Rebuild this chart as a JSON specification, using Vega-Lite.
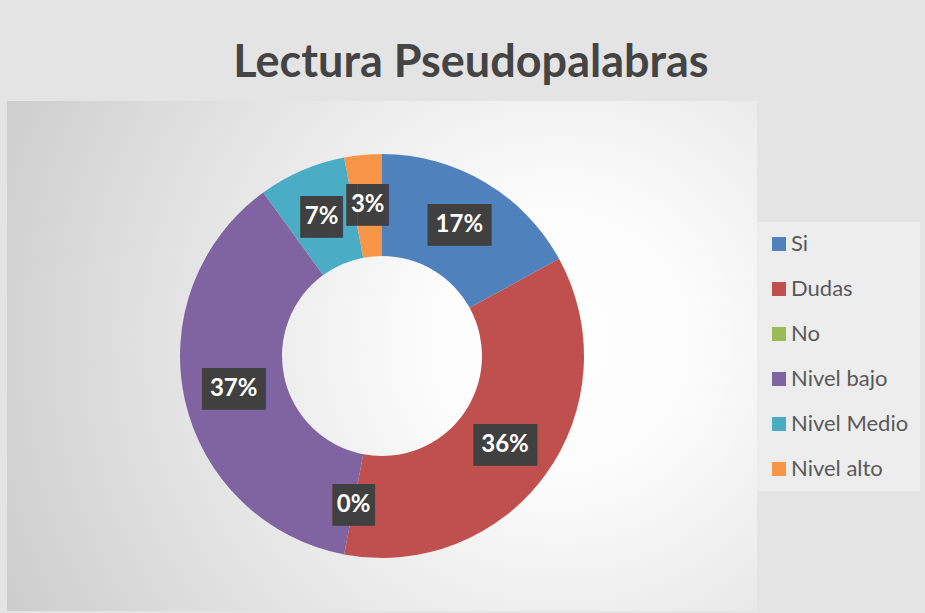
{
  "$schema": "https://vega.github.io/schema/vega-lite/v6.json",
  "autosize": {"type": "none"},
  "width": 750,
  "height": 510,
  "padding": {"left": 7, "top": 101, "right": 168, "bottom": 2},
  "background": "#e4e4e4",
  "title": {
    "text": "Lectura Pseudopalabras",
    "font": "Lato",
    "fontSize": 45,
    "fontWeight": "bold",
    "color": "#444444",
    "anchor": "middle",
    "baseline": "alphabetic",
    "offset": -21,
    "dx": 89
  },
  "config": {"view": {"stroke": null}},
  "layer": [
    {
      "data": {"values": [{}]},
      "mark": {
        "type": "rect",
        "fill": {
          "gradient": "radial",
          "x1": 0.737, "y1": 0.479, "r1": 0,
          "x2": 0.737, "y2": 0.479, "r2": 0.867,
          "stops": [
            {"offset": 0, "color": "#ffffff"},
            {"offset": 0.22, "color": "#fbfbfb"},
            {"offset": 1, "color": "#c9c9c9"}
          ]
        }
      },
      "encoding": {}
    },
    {
      "data": {"name": "datos"},
      "layer": [
        {
          "mark": {"type": "arc", "radius": 202, "radius2": 100},
          "encoding": {
            "theta": {"field": "valor", "type": "quantitative", "stack": true},
            "order": {"field": "orden", "type": "quantitative"},
            "color": {
              "field": "categoria",
              "type": "nominal",
              "scale": {
                "domain": ["Si", "Dudas", "No", "Nivel bajo", "Nivel Medio", "Nivel alto"],
                "range": ["#4F81BD", "#C0504D", "#9BBB59", "#8064A2", "#4BACC6", "#F79646"]
              },
              "legend": {
                "orient": "none",
                "legendX": 750,
                "legendY": 121,
                "title": null,
                "symbolType": "square",
                "symbolSize": 196,
                "symbolStrokeWidth": 0,
                "labelFont": "Lato",
                "labelFontSize": 22,
                "labelColor": "#595959",
                "labelOffset": 1,
                "rowPadding": 23,
                "padding": 11,
                "fillColor": "#ededed"
              }
            }
          }
        },
        {
          "mark": {"type": "text", "radius": 152, "font": "DejaVu Sans Mono", "fontSize": 35, "color": "#404040", "dy": 1},
          "encoding": {
            "theta": {"field": "valor", "type": "quantitative", "stack": true},
            "order": {"field": "orden", "type": "quantitative"},
            "text": {"condition": {"test": "datum.valor >= 0.1", "value": "███"}, "value": "▐█▌"}
          }
        },
        {
          "mark": {"type": "text", "radius": 152, "font": "Lato", "fontSize": 24, "fontWeight": "bold", "color": "#ffffff"},
          "encoding": {
            "theta": {"field": "valor", "type": "quantitative", "stack": true},
            "order": {"field": "orden", "type": "quantitative"},
            "text": {"field": "valor", "type": "quantitative", "format": ".0%"}
          }
        }
      ]
    }
  ],
  "datasets": {
    "datos": [
      {"categoria": "Si", "valor": 0.17, "orden": 1},
      {"categoria": "Dudas", "valor": 0.36, "orden": 2},
      {"categoria": "No", "valor": 0.0, "orden": 3},
      {"categoria": "Nivel bajo", "valor": 0.37, "orden": 4},
      {"categoria": "Nivel Medio", "valor": 0.07, "orden": 5},
      {"categoria": "Nivel alto", "valor": 0.03, "orden": 6}
    ]
  }
}
